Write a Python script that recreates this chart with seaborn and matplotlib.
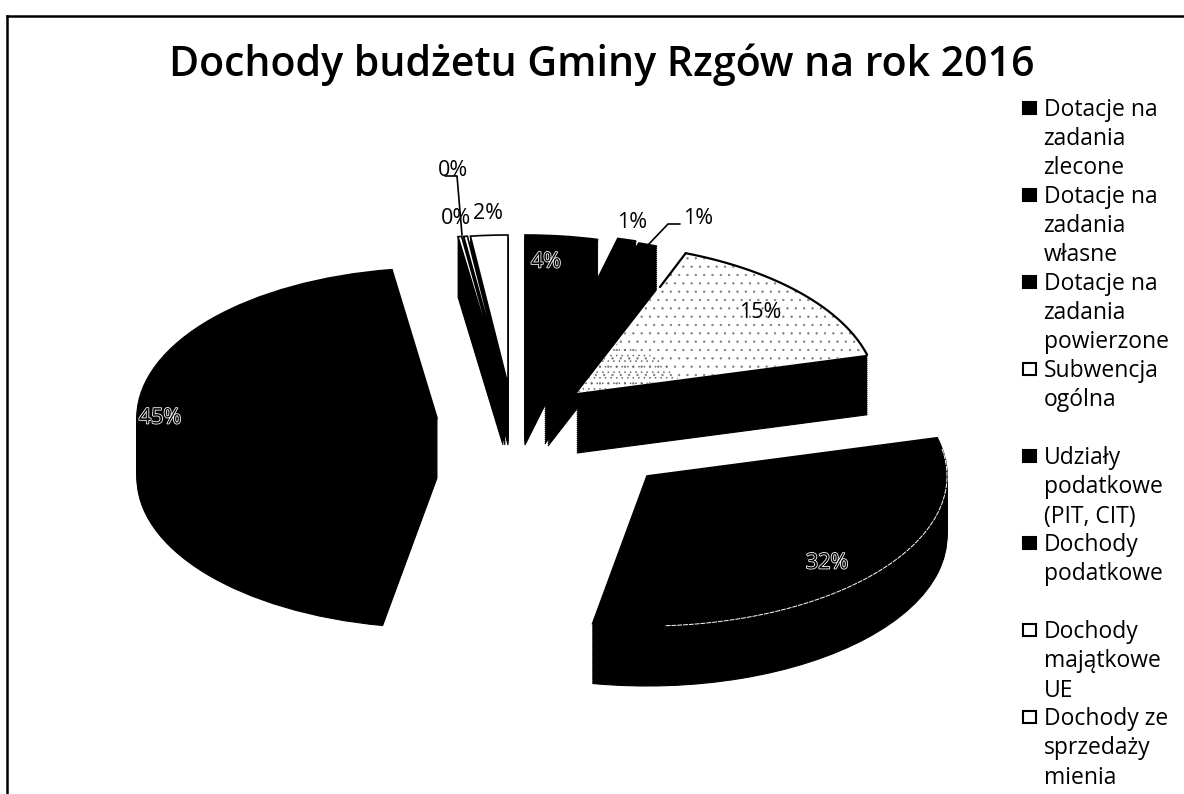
import numpy as np
import matplotlib
matplotlib.use("Agg")
import matplotlib.pyplot as plt
import matplotlib.patheffects as pe
from matplotlib.legend_handler import HandlerBase
from matplotlib.patches import Rectangle, Wedge
import seaborn as sns

title = "Dochody budżetu Gminy Rzgów na rok 2016"
categories = [
    "Dotacje na\nzadania\nzlecone",
    "Dotacje na\nzadania\nwłasne",
    "Dotacje na\nzadania\npowierzone",
    "Subwencja\nogólna\n ",
    "Udziały\npodatkowe\n(PIT, CIT)",
    "Dochody\npodatkowe\n ",
    "Dochody\nmajątkowe\nUE",
    "Dochody ze\nsprzedaży\nmienia",
    "Pozostałe",
]
values = [3.9, 1.0, 1.0, 15.0, 32.0, 44.7, 0.2, 0.2, 2.0]
top_colors = ["black", "black", "black", "white", "black", "black", "white", "white", "white"]

# layout, in pixels of the reference
W, H = 1184, 794
radius = 300
depth = 60
apex_px = [(525, 385), (545, 384), (548, 386), (577, 393), (647, 476),
           (437, 418), (503, 385), (505, 385), (508, 385)]
label_px = [(546, 262), (632, 222), (698, 218), (760, 312), (827, 563),
            (160, 418), (453, 170), (456, 218), (488, 213)]
hollow_labels = [0, 4, 5]

sns.set_theme(style="white")
plt.rcParams["font.family"] = ["Open Sans", "DejaVu Sans"]
plt.rcParams["hatch.linewidth"] = 0.4


def to_data(x, y):
    # y is doubled in data space, so a round pie comes out as a flat ellipse
    return x, (H - y) * 2


class TopSquare(HandlerBase):
    def create_artists(self, legend, orig_handle, xdescent, ydescent, width, height, fontsize, trans):
        size = 0.5 * fontsize
        return [Rectangle((0, height - ydescent - size * 1.25 + 0.6 * fontsize), size * 1.1, size,
                          transform=trans, facecolor=orig_handle.get_facecolor(), edgecolor="black",
                          linewidth=1.5)]


fig = plt.figure(figsize=(W / 100, H / 100), dpi=100)
ax = fig.add_axes([7 / W, 0, 1 - 7 / W, 1 - 16 / H])

# side walls: black pies stepped downwards
for step in range(depth, 0, -2):
    side, _ = ax.pie(values, radius=radius, startangle=90, counterclock=False,
                     colors=["black"] * len(values),
                     wedgeprops=dict(edgecolor="black", linewidth=0.8))
    for wedge, (x, y) in zip(side, apex_px):
        wedge.set_center(to_data(x, y + step))

top, _, pct = ax.pie(values, radius=radius, startangle=90, counterclock=False, colors=top_colors,
                     autopct="%1.0f%%", wedgeprops=dict(edgecolor="black", linewidth=1.2))
for i, (wedge, (x, y)) in enumerate(zip(top, apex_px)):
    wedge.set_center(to_data(x, y))
    wedge.set_zorder(3 + i * 0.01)

# the scanned grey slice: sparse specks, denser at the tip, black only along the rim
top[3].set_hatch("..")
top[3].set_edgecolor("#777777")
top[3].set_linewidth(0)
top[3].set_zorder(3.5)
rx, ry = to_data(*apex_px[3])
ax.add_patch(Wedge((rx, ry), radius * 0.35, top[3].theta1, top[3].theta2, fill=False, hatch="...",
                   edgecolor="#666666", linewidth=0, zorder=3.55))
theta = np.radians(np.linspace(top[3].theta1, top[3].theta2, 60))
rim_x = rx + radius * np.cos(theta)
rim_y = ry + radius * np.sin(theta)
ax.plot(rim_x, rim_y, color="black", lw=1.6, zorder=3.6)
edge_x, edge_y = to_data(660, 287)
ax.plot([edge_x, rim_x[-1]], [edge_y, rim_y[-1]], color="black", lw=1.6, zorder=3.6)

for i, (text, (x, y)) in enumerate(zip(pct, label_px)):
    text.set_position(to_data(x, y))
    text.set_fontsize(15.5)
    text.set_ha("center")
    text.set_va("center")
    text.set_zorder(5)
    text.set_color("black")
    if i in hollow_labels:
        text.set_path_effects([pe.withStroke(linewidth=1.2, foreground="white")])

# thin rim highlight on the big black slice
cx, cy = to_data(*apex_px[4])
theta = np.radians(np.linspace(top[4].theta1 + 14, top[4].theta2 - 4, 80))
ax.plot(cx + radius * np.cos(theta), cy + radius * np.sin(theta), color="white", lw=0.7,
        ls=(0, (5, 1)), zorder=4)

# leader lines of the outside labels
for pts in ([(445, 176), (457, 176), (462, 235)], [(648, 245), (668, 224), (680, 224)]):
    xs, ys = zip(*[to_data(*p) for p in pts])
    ax.plot(xs, ys, color="black", lw=1.2, zorder=4)

ax.set_xlim(7, W)
ax.set_ylim(0, (H - 16) * 2)
ax.set_aspect("auto")
ax.set_frame_on(True)
for name in ("right", "bottom"):
    ax.spines[name].set_visible(False)
for name in ("left", "top"):
    ax.spines[name].set_visible(True)
    ax.spines[name].set_color("black")
    ax.spines[name].set_linewidth(1.8)

ax.set_title(title, fontsize=29.6, fontweight="semibold", color="black", y=0.912, x=0.505)

legend = ax.legend(top[:8], categories[:8], handler_map={Wedge: TopSquare()},
                   loc="upper left", bbox_to_anchor=(1023 / W, 1 - 98 / H), bbox_transform=fig.transFigure,
                   frameon=False, fontsize=16.5, borderpad=0, borderaxespad=0, labelspacing=0.2,
                   handlelength=0.55, handleheight=3.5, handletextpad=0.35)
for text in legend.get_texts():
    text.set_linespacing(1.29)
    text.set_color("black")
legend.set_zorder(6)

fig.savefig("out.png", dpi=100)
